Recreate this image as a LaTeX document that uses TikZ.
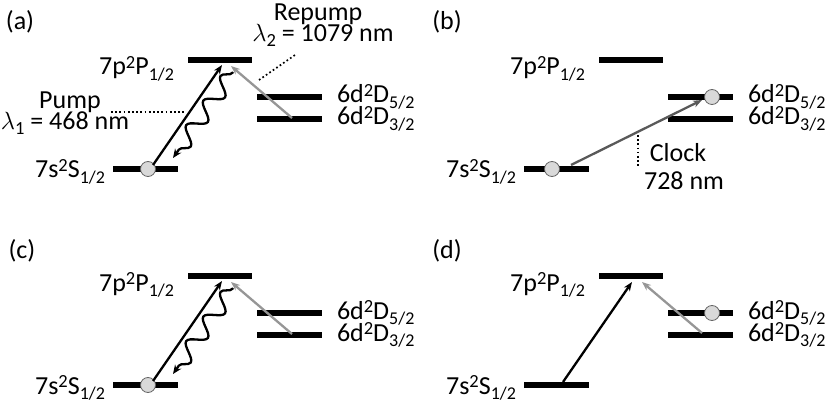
\documentclass[tikz,border=0pt]{standalone}
\usepackage{fontspec}
\setmainfont{Carlito}
\usetikzlibrary{arrows.meta,decorations.pathmorphing}
\definecolor{repgray}{HTML}{969696}
\definecolor{clockgray}{HTML}{595959}
\newcommand\lvlab[4]{#1\raisebox{6.5pt}{\fontsize{18.5}{18.5}\selectfont #2}#3\raisebox{-5.5pt}{\fontsize{18}{18}\selectfont #4}}
\newcommand\lamsub[1]{$\lambda$\raisebox{-5pt}{\fontsize{18.5}{18.5}\selectfont #1}}
\newcommand\drawlevels{%
  \coordinate (P1) at (188,60);  \coordinate (P2) at (252,60);
  \coordinate (D51) at (257,97); \coordinate (D52) at (322,97);
  \coordinate (D31) at (257,119);\coordinate (D32) at (322,119);
  \coordinate (S1) at (113,169); \coordinate (S2) at (178,169);
  \draw[level] (P1) -- (P2);
  \draw[level] (D51) -- (D52);
  \draw[level] (D31) -- (D32);
  \draw[level] (S1) -- (S2);
  \node[anchor=base east] (Plab) at (174,75) {\lvlab{7p}{2}{P}{1/2}};
  \node[anchor=base east] (Slab) at (105,178) {\lvlab{7s}{2}{S}{1/2}};
  \node[anchor=base west] (D5lab) at (337,103) {\lvlab{6d}{2}{D}{5/2}};
  \node[anchor=base west] (D3lab) at (337,125) {\lvlab{6d}{2}{D}{3/2}};
}
\begin{document}
\begin{tikzpicture}[x=1pt,y=-1pt,
  font=\fontsize{26}{30}\selectfont,
  every node/.style={inner sep=0pt, outer sep=0pt},
  level/.style={line width=6.5pt},
  exc/.style={line width=2.3pt, -{Stealth[length=9pt,width=7pt]}},
  rep/.style={exc, draw=repgray, -{Stealth[length=9pt,width=7pt,fill=repgray]}},
  clk/.style={exc, draw=clockgray, -{Stealth[length=9pt,width=7pt,fill=clockgray]}},
  atom/.style={circle, draw=black!60, fill=black!15, line width=0.8pt, minimum size=15pt},
  wave/.style={line width=2.3pt, decorate, decoration={snake, mirror, amplitude=8pt, segment length=30pt, pre length=1pt, post length=9pt}, -{Stealth[length=9pt,width=7.5pt]}},
  dots/.style={line width=1.7pt, dash pattern=on 1.7pt off 2.5pt},
  plab/.style={anchor=center}]
\useasboundingbox (0,0) rectangle (834,411);

% ---------- (a)
\begin{scope}[name prefix=a-]
  \node[plab] (tag) at (20,22) {(a)};
  \drawlevels
  \node[atom] (atom) at (148,169) {};
  \coordinate (ex0) at (153,165); \coordinate (ex1) at (222,65);
  \draw[exc] (ex0) -- (ex1);
  \coordinate (rp0) at (292,118); \coordinate (rp1) at (231,66);
  \draw[rep] (rp0) -- (rp1);
  \coordinate (w0) at (233,72); \coordinate (w1) at (173,158);
  \draw[wave] (w0) -- (w1);
  \coordinate (pd0) at (111,112); \coordinate (pd1) at (185,112);
  \draw[dots] (pd0) -- (pd1);
  \node[anchor=base] (pump) at (70,109) {Pump};
  \node[anchor=base] (pumpl) at (65,130) {\lamsub{1} = 468 nm};
  \coordinate (rd0) at (259,80); \coordinate (rd1) at (295,55);
  \draw[dots] (rd0) -- (rd1);
  \node[anchor=base] (repump) at (318,21) {Repump};
  \node[anchor=base] (repumpl) at (323,42) {\lamsub{2} = 1079 nm};
\end{scope}

% ---------- (b)
\begin{scope}[shift={(411,0)}, name prefix=b-]
  \node[plab] (tag) at (36,22) {(b)};
  \drawlevels
  \node[atom] (atomS) at (141,169) {};
  \node[atom] (atomD) at (301,97) {};
  \coordinate (ck0) at (160,165); \coordinate (ck1) at (291,100);
  \draw[clk] (ck0) -- (ck1);
  \coordinate (cd0) at (227,135); \coordinate (cd1) at (227,168);
  \draw[dots] (cd0) -- (cd1);
  \node[anchor=base] (clock) at (267,162) {Clock};
  \node[anchor=base] (clockl) at (273,190) {728 nm};
\end{scope}

% ---------- (c)
\begin{scope}[shift={(0,216)}, name prefix=c-]
  \node[plab] (tag) at (22,35) {(c)};
  \drawlevels
  \node[atom] (atom) at (148,169) {};
  \coordinate (ex0) at (153,165); \coordinate (ex1) at (222,65);
  \draw[exc] (ex0) -- (ex1);
  \coordinate (rp0) at (292,118); \coordinate (rp1) at (231,66);
  \draw[rep] (rp0) -- (rp1);
  \coordinate (w0) at (233,72); \coordinate (w1) at (173,158);
  \draw[wave] (w0) -- (w1);
\end{scope}

% ---------- (d)
\begin{scope}[shift={(411,216)}, name prefix=d-]
  \node[plab] (tag) at (36,35) {(d)};
  \drawlevels
  \node[atom] (atomD) at (301,97) {};
  \coordinate (ex0) at (152,166); \coordinate (ex1) at (221,66);
  \draw[exc] (ex0) -- (ex1);
  \coordinate (rp0) at (291,117); \coordinate (rp1) at (231,66);
  \draw[rep] (rp0) -- (rp1);
\end{scope}
\end{tikzpicture}
\end{document}
